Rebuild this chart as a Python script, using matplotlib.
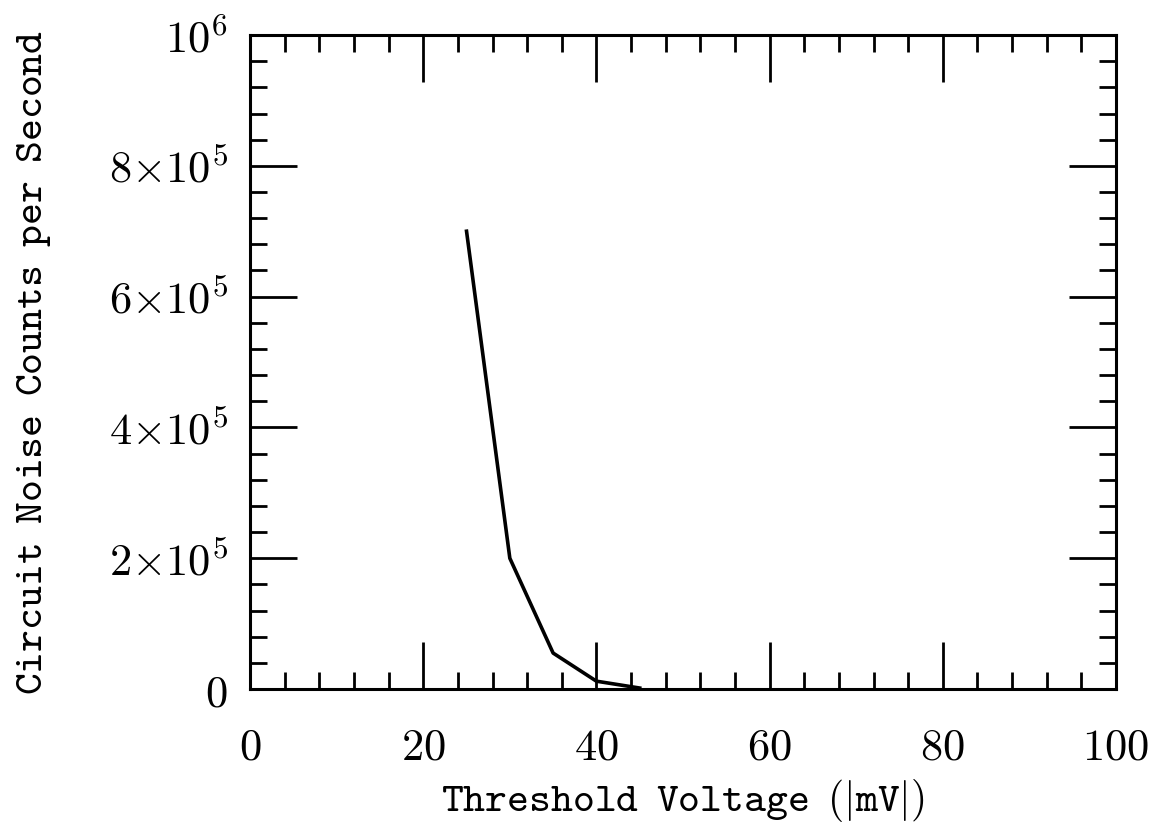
import matplotlib
matplotlib.use("Agg")
import matplotlib.pyplot as plt
from matplotlib.ticker import MultipleLocator

plt.rcParams["mathtext.fontset"] = "cm"

# threshold voltage (|mV|) and noise counts per second
threshold = [25, 30, 35, 40, 45]
counts = [7.0e5, 2.0e5, 5.5e4, 1.2e4, 1.5e3]

x_ticks = [0, 20, 40, 60, 80, 100]
x_labels = ["$0$", "$20$", "$40$", "$60$", "$80$", "$100$"]
y_ticks = [0, 2e5, 4e5, 6e5, 8e5, 1e6]
y_labels = ["$0$", r"$2{\times}10^5$", r"$4{\times}10^5$", r"$6{\times}10^5$",
            r"$8{\times}10^5$", "$10^6$"]

xlabel = "Threshold Voltage (|mV|)"
ylabel = "Circuit Noise Counts per Second"


def tt(s):
    # typewriter text, with spaces as wide as a typewriter character
    return r"$\mathtt{" + s.replace(" ", r"\enspace ") + "}$"


fig = plt.figure(figsize=(11.55, 8.24), dpi=100)
ax = fig.add_axes([0.2165, 0.1638, 0.7497, 0.7937])

ax.plot(threshold, counts, color="black", linewidth=2.6)

ax.set_xlim(0, 100)
ax.set_ylim(0, 1e6)
ax.set_xticks(x_ticks)
ax.set_xticklabels(x_labels)
ax.set_yticks(y_ticks)
ax.set_yticklabels(y_labels)
ax.xaxis.set_minor_locator(MultipleLocator(4))
ax.yaxis.set_minor_locator(MultipleLocator(4e4))

ax.tick_params(which="both", direction="in", top=True, right=True, width=2, color="black")
ax.tick_params(which="major", length=34)
ax.tick_params(which="minor", length=12)
ax.tick_params(axis="x", which="major", pad=26, labelsize=32)
ax.tick_params(axis="y", which="major", pad=16, labelsize=32)
for s in ax.spines.values():
    s.set_linewidth(2.2)

ax.set_xlabel(tt(xlabel), fontsize=30)
ax.set_ylabel(tt(ylabel), fontsize=30)
ax.xaxis.set_label_coords(0.5, -0.135)
ax.yaxis.set_label_coords(-0.228, 0.5)

fig.savefig("out.png", dpi=100)
